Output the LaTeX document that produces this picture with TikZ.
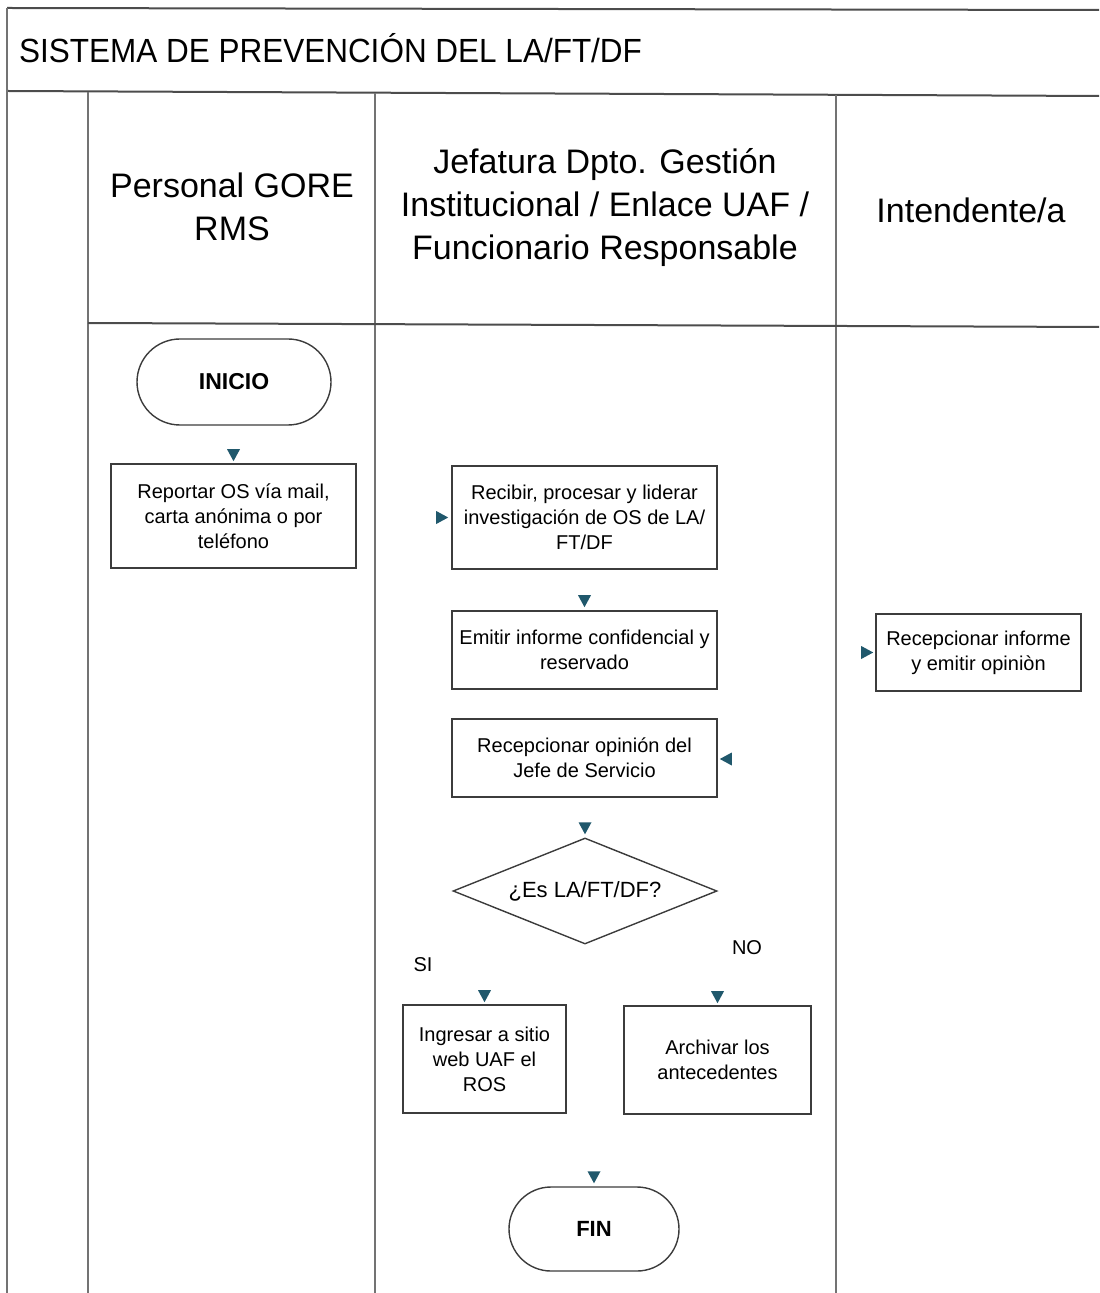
\documentclass[tikz,border=0pt]{standalone}
\usepackage{fontspec}
\setmainfont{Liberation Sans}
\newfontfamily\titlefont[FakeStretch=0.94]{Liberation Sans}
\usetikzlibrary{shapes.geometric,shapes.misc,calc}
\definecolor{tipcol}{RGB}{32,88,108}
\definecolor{framecol}{RGB}{60,60,60}
\tikzset{
 lane/.style={draw=black!55, line width=0.6pt},
 frameline/.style={draw=black!70, line width=1pt},
 taskbox/.style={draw=framecol, line width=0.8pt, rectangle, align=center, inner sep=0pt, font=\fontsize{10}{12.5}\selectfont},
 terminal/.style={draw=framecol, line width=0.7pt, rounded rectangle, inner sep=0pt, font=\bfseries\fontsize{11.5}{14}\selectfont},
 decision/.style={draw=framecol, line width=0.7pt, diamond, aspect=2.5, inner sep=0pt, font=\fontsize{11}{13}\selectfont},
 header/.style={align=center, font=\fontsize{17}{21.5}\selectfont},
 lbl/.style={font=\fontsize{10}{12}\selectfont},
 tip/.style={fill=tipcol},
}
\newcommand\tipdown[1]{\fill[tip] ($(#1)+(-6.5,-12)$) -- ($(#1)+(6.5,-12)$) -- (#1) -- cycle;}
\newcommand\tipright[1]{\fill[tip] ($(#1)+(-12,-6.5)$) -- ($(#1)+(-12,6.5)$) -- (#1) -- cycle;}
\newcommand\tipleft[1]{\fill[tip] ($(#1)+(12,-6.5)$) -- ($(#1)+(12,6.5)$) -- (#1) -- cycle;}
\begin{document}
\begin{tikzpicture}[x=0.5pt,y=-0.5pt]
\useasboundingbox (0,0) rectangle (1099,1293);
% frame and lanes
\draw[frameline] (7,8) -- (1099,10);
\draw[frameline] (7,91) -- (1099,96);
\draw[lane] (7,8) -- (7,1293);
\draw[lane] (88,92) -- (88,1293);
\draw[lane] (375,93) -- (375,1293);
\draw[lane] (836,95) -- (836,1293);
\draw[frameline] (88,323) -- (1099,327);
% title and headers
\node[anchor=west, font=\titlefont\fontsize{16.75}{20}\selectfont] (title) at (12,48) {SISTEMA DE PREVENCIÓN DEL LA/FT/DF};
\node[header] (h1) at (232,207) {Personal GORE\\RMS};
\node[header] (h2) at (605,208) {Jefatura Dpto. Gestión\\Institucional / Enlace UAF /\\Funcionario Responsable};
\node[header] (h3) at (971,210) {Intendente/a};
% nodes
\node[terminal, minimum width=97pt, minimum height=43pt] (inicio) at (234,382) {INICIO};
\node[taskbox, minimum width=122.5pt, minimum height=52pt] (reportar) at (233.5,516) {Reportar OS vía mail,\\carta anónima o por\\teléfono};
\node[taskbox, minimum width=132.5pt, minimum height=51.5pt] (recibir) at (584.5,517.5) {Recibir, procesar y liderar\\investigación de OS de LA/\\FT/DF};
\node[taskbox, minimum width=132.5pt, minimum height=39pt] (emitir) at (584.5,650) {Emitir informe confidencial y\\reservado};
\node[taskbox, minimum width=102.5pt, minimum height=38.5pt] (recinf) at (978.5,652.5) {Recepcionar informe\\y emitir opiniòn};
\node[taskbox, minimum width=132.5pt, minimum height=39pt] (recop) at (584.5,758) {Recepcionar opinión del\\Jefe de Servicio};
\node[decision, minimum width=132pt, minimum height=53pt] (dec) at (585,891) {¿Es LA/FT/DF?};
\node[lbl] (si) at (423,965) {SI};
\node[lbl] (no) at (747,948) {NO};
\node[taskbox, minimum width=81.5pt, minimum height=54pt] (ingresar) at (484.5,1059) {Ingresar a sitio\\web UAF el\\ROS};
\node[taskbox, minimum width=93.5pt, minimum height=54pt] (archivar) at (717.5,1060) {Archivar los\\antecedentes};
\node[terminal, minimum width=85pt, minimum height=42pt, font=\bfseries\fontsize{11}{13}\selectfont] (fin) at (594,1229) {FIN};
% arrowheads (connectors without visible lines)
\coordinate (t1) at ($(reportar.north)+(0,-2)$);
\coordinate (t2) at ($(recibir.west)+(-3,0)$);
\coordinate (t3) at ($(emitir.north)+(0,-3)$);
\coordinate (t4) at ($(recinf.west)+(-2,0)$);
\coordinate (t5) at ($(recop.east)+(2,1)$);
\coordinate (t6) at ($(dec.north)+(0,-3)$);
\coordinate (t7) at ($(ingresar.north)+(0,-2)$);
\coordinate (t8) at ($(archivar.north)+(0,-2)$);
\coordinate (t9) at ($(fin.north)+(0,-3)$);
\tipdown{t1}
\tipright{t2}
\tipdown{t3}
\tipright{t4}
\tipleft{t5}
\tipdown{t6}
\tipdown{t7}
\tipdown{t8}
\tipdown{t9}
\end{tikzpicture}
\end{document}
